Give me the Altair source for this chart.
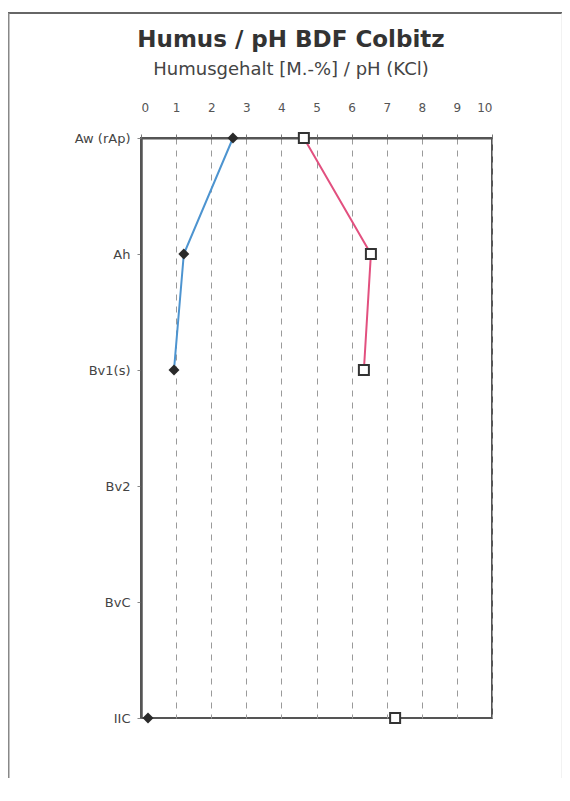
import altair as alt
import pandas as pd

horizons = ["Aw (rAp)", "Ah", "Bv1(s)", "Bv2", "BvC", "IIC"]
humus_horizons = ["Aw (rAp)", "Ah", "Bv1(s)", "IIC"]
humus_values = [2.62, 1.22, 0.94, 0.2]
ph_horizons = ["Aw (rAp)", "Ah", "Bv1(s)", "IIC"]
ph_values = [4.64, 6.55, 6.35, 7.24]
connected = [True, True, True, False]
x_ticks = list(range(0, 11))
title_text = "Humus / pH BDF Colbitz"
subtitle_text = "Humusgehalt [M.-%] / pH (KCl)"

order_map = {h: i for i, h in enumerate(horizons)}
humus_df = pd.DataFrame({
    "horizon": humus_horizons,
    "value": humus_values,
    "depth": [order_map[h] for h in humus_horizons],
    "connected": connected,
})
ph_df = pd.DataFrame({
    "horizon": ph_horizons,
    "value": ph_values,
    "depth": [order_map[h] for h in ph_horizons],
    "connected": connected,
})

FONT = "DejaVu Sans"

x_enc = alt.X(
    "value:Q",
    scale=alt.Scale(domain=[0, 10], nice=False, zero=True),
    axis=alt.Axis(
        orient="top", values=x_ticks, title=None, format="d",
        labelFont=FONT, labelFontSize=12, labelColor="#555",
        labelPadding=20,
        domainColor="#555", domainWidth=2,
        tickColor="#777", tickSize=4,
        grid=True, gridColor="#9a9a9a", gridDash=[6, 6], gridWidth=1,
    ),
)
y_enc = alt.Y(
    "horizon:O",
    sort=horizons,
    scale=alt.Scale(type="point", domain=horizons, padding=0),
    axis=alt.Axis(
        title=None, labelFont=FONT, labelFontSize=13, labelColor="#444",
        labelPadding=7, domainColor="#555", domainWidth=2.5,
        tickColor="#888", tickSize=4, grid=False,
    ),
)

base_h = alt.Chart(humus_df)
base_p = alt.Chart(ph_df)

humus_line = base_h.transform_filter("datum.connected").mark_line(
    color="#4d94d0", strokeWidth=2
).encode(x=x_enc, y=y_enc, order="depth:Q")
ph_line = base_p.transform_filter("datum.connected").mark_line(
    color="#e2507f", strokeWidth=2
).encode(x=x_enc, y=y_enc, order="depth:Q")

humus_pts = base_h.mark_point(
    shape="diamond", filled=True, color="#2a2a2a", size=120, opacity=1
).encode(x=x_enc, y=y_enc)
ph_pts = base_p.mark_point(
    shape="square", filled=True, fill="white", stroke="#333",
    strokeWidth=2, size=100, opacity=1
).encode(x=x_enc, y=y_enc)

frame_df = pd.DataFrame({"k": [0]})
frame_top = alt.Chart(frame_df).mark_rule(color="#666", strokeWidth=2).encode(
    x=alt.value(-133), x2=alt.value(440), y=alt.value(-125)
)
frame_left = alt.Chart(frame_df).mark_rule(color="#888", strokeWidth=3).encode(
    x=alt.value(-133), y=alt.value(-125), y2=alt.value(700)
)
frame_right = alt.Chart(frame_df).mark_rule(color="#e4e4e4", strokeWidth=1).encode(
    x=alt.value(421), y=alt.value(-125), y2=alt.value(700)
)

title_df = pd.DataFrame({"t": [title_text]})
sub_df = pd.DataFrame({"t": [subtitle_text]})
title_mark = alt.Chart(title_df).mark_text(
    font=FONT, fontSize=23, fontWeight="bold", color="#333",
    align="center", baseline="alphabetic"
).encode(text="t:N", x=alt.value(150), y=alt.value(-91))
sub_mark = alt.Chart(sub_df).mark_text(
    font=FONT, fontSize=18, color="#444",
    align="center", baseline="alphabetic"
).encode(text="t:N", x=alt.value(150), y=alt.value(-63))

chart = alt.layer(
    frame_top, frame_left, frame_right, title_mark, sub_mark,
    humus_line, ph_line, humus_pts, ph_pts,
).properties(
    width=351, height=580,
    padding={"left": 133, "top": 130, "right": 70, "bottom": 60},
    autosize=alt.AutoSizeParams(type="none"),
    background="white",
).configure_view(
    stroke="#555", strokeWidth=2
)

chart.save("out.html", embed_options={"renderer": "svg", "actions": False})
